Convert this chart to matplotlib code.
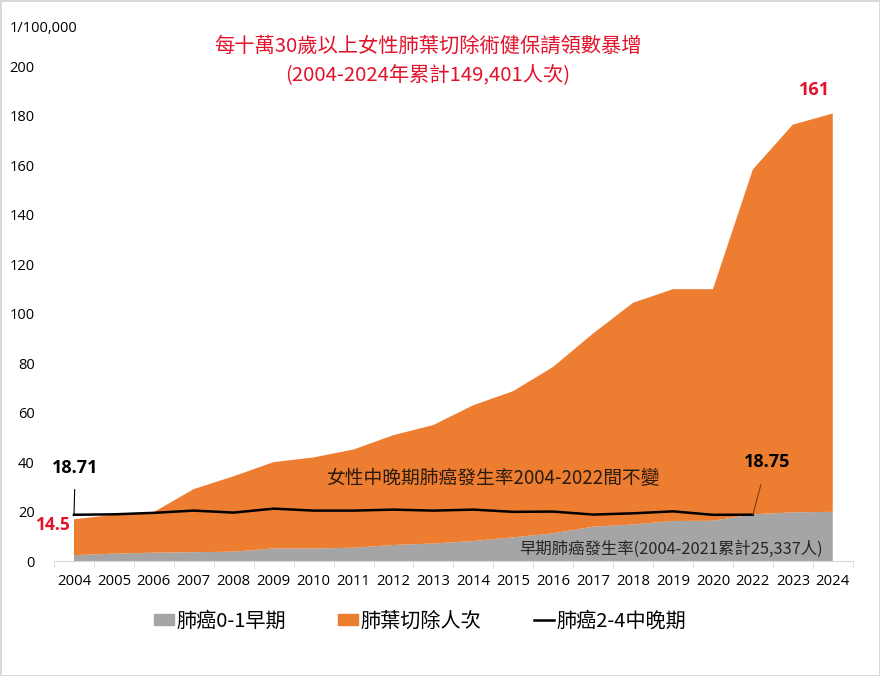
import numpy as np
import matplotlib.pyplot as plt
from matplotlib.patches import Patch
from matplotlib.lines import Line2D

plt.rcParams['font.family'] = ['Noto Sans CJK TC', 'DejaVu Sans']

# x categories (2021 is not on the axis)
years = ['2004', '2005', '2006', '2007', '2008', '2009', '2010', '2011', '2012', '2013',
         '2014', '2015', '2016', '2017', '2018', '2019', '2020', '2022', '2023', '2024']

# early stage (0-1) incidence per 100,000
early = [2.4, 3.0, 3.4, 3.6, 3.8, 5.1, 5.1, 5.4, 6.5, 7.1,
         8.1, 9.6, 11.2, 13.9, 14.8, 16.2, 16.3, 18.9, 19.7, 19.9]

# lobectomy claims per 100,000 (stacked on top of early stage)
lobectomy = [14.5, 15.7, 16.4, 25.5, 30.5, 34.9, 36.8, 39.7, 44.4, 47.9,
             54.9, 59.1, 67.3, 78.1, 89.6, 93.7, 93.6, 139.4, 156.7, 161.0]

# late stage (2-4) incidence, 2004-2022
late = [18.71, 18.9, 19.5, 20.4, 19.6, 21.2, 20.4, 20.4, 20.8, 20.4,
        20.8, 19.9, 20.0, 18.8, 19.3, 20.1, 18.7, 18.75]

GRAY = '#A5A5A5'
ORANGE = '#ED7D31'
RED = '#E3122B'
LATIN = ['Open Sans', 'DejaVu Sans']

x = np.arange(len(years))

fig = plt.figure(figsize=(8.8, 6.76), dpi=100)
fig.patch.set_edgecolor('#D9D9D9')
fig.patch.set_linewidth(2)
ax = fig.add_axes([0.0614, 0.170, 0.9076, 0.732])

ax.stackplot(x, early, lobectomy, colors=[GRAY, ORANGE], linewidth=0)
ax.plot(x[:len(late)], late, color='black', lw=1.8, zorder=3)

ax.set_xlim(-0.5, len(years) - 0.5)
ax.set_ylim(0, 200)
ax.set_yticks(np.arange(0, 201, 20))
ax.set_xticks(x)
ax.set_xticklabels(years, fontsize=10.7, family=LATIN)
ax.set_xticks(np.arange(-0.5, len(years), 1), minor=True)
ax.tick_params(axis='x', which='major', length=0, pad=9)
ax.tick_params(axis='x', which='minor', length=5, color='#D9D9D9', direction='out')
ax.tick_params(axis='y', length=0, pad=14)
for lab in ax.get_yticklabels():
    lab.set_fontsize(10.5)
    lab.set_family(LATIN)

for s in ['top', 'right', 'left']:
    ax.spines[s].set_visible(False)
ax.spines['bottom'].set_color('#D9D9D9')

fig.text(0.011, 0.958, '1/100,000', fontsize=10.5, va='center', family=LATIN)

fig.text(0.486, 0.931, '每十萬30歲以上女性肺葉切除術健保請領數暴增',
         color=RED, fontsize=14.6, ha='center', va='center')
fig.text(0.486, 0.890, '(2004-2024年累計149,401人次)',
         color=RED, fontsize=14.6, ha='center', va='center')

# annotations
ax.annotate('18.71', xy=(x[0], late[0]), xytext=(-0.55, 37.6), fontsize=13,
            fontweight='bold', ha='left', va='center', family=LATIN,
            arrowprops=dict(arrowstyle='-', color='black', lw=0.8,
                            shrinkA=7, shrinkB=0))
ax.text(-0.08, 14.5, '14.5', color=RED, fontsize=12.5, fontweight='bold',
        ha='right', va='center', family=LATIN)
ax.annotate('18.75', xy=(x[len(late) - 1], late[-1]), xytext=(17.35, 40.0), fontsize=13,
            fontweight='bold', ha='center', va='center', family=LATIN,
            arrowprops=dict(arrowstyle='-', color='#7F3F10', lw=0.8,
                            shrinkA=8, shrinkB=0))
ax.text(x[-1] - 0.45, early[-1] + lobectomy[-1] + 6, '161', color=RED, fontsize=13,
        fontweight='bold', ha='center', va='bottom', family=LATIN)

ax.text(10.5, 33.5, '女性中晚期肺癌發生率2004-2022間不變', fontsize=13.5,
        color='#2B1A0E', ha='center', va='center')
ax.text(18.75, 4.8, '早期肺癌發生率(2004-2021累計25,337人)', fontsize=11.8,
        color='#262626', ha='right', va='center')

# legend
handles = [Patch(color=GRAY), Patch(color=ORANGE), Line2D([0], [0], color='black', lw=1.8)]
fig.legend(handles, ['肺癌0-1早期', '肺葉切除人次', '肺癌2-4中晚期'],
           loc='center', bbox_to_anchor=(0.477, 0.081), ncol=3, frameon=False,
           fontsize=14.5, handlelength=1.0, handleheight=0.5, handletextpad=0.12,
           columnspacing=2.6)

fig.savefig('out.png', dpi=100, edgecolor=fig.get_edgecolor())
